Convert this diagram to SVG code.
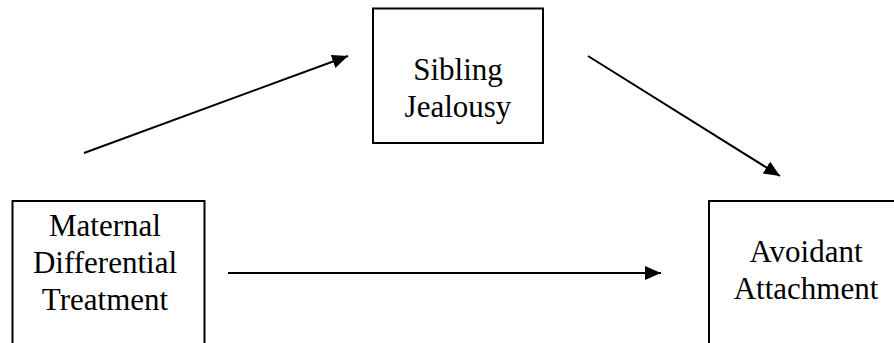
<svg xmlns="http://www.w3.org/2000/svg" width="894" height="343" viewBox="0 0 894 343">
  <style>
    .box { fill: #ffffff; stroke: #000000; stroke-width: 2; }
    .label { font-family: "Liberation Serif", "Times New Roman", serif; font-size: 31px; fill: #000000; text-anchor: middle; }
    .edge { stroke: #000000; stroke-width: 2; fill: none; marker-end: url(#head); }
  </style>
  <defs>
    <marker id="head" markerUnits="userSpaceOnUse" markerWidth="18" markerHeight="16" refX="16" refY="7" orient="auto">
      <path d="M0,0 L16,7 L0,14 Z" fill="#000000"/>
    </marker>
  </defs>
  <rect width="894" height="343" fill="#ffffff"/>

  <g id="node-sibling-jealousy">
    <rect class="box" x="373" y="8.5" width="170" height="134.5"/>
    <text class="label" x="458" y="80">Sibling</text>
    <text class="label" x="458" y="117">Jealousy</text>
  </g>

  <g id="node-maternal-differential-treatment">
    <rect class="box" x="12.5" y="201" width="192" height="160"/>
    <text class="label" x="105" y="236">Maternal</text>
    <text class="label" x="105" y="273">Differential</text>
    <text class="label" x="105" y="310">Treatment</text>
  </g>

  <g id="node-avoidant-attachment">
    <rect class="box" x="709" y="201" width="200" height="160"/>
    <text class="label" x="806" y="262">Avoidant</text>
    <text class="label" x="806" y="299">Attachment</text>
  </g>

  <g id="connectors">
    <line class="edge" x1="84" y1="153" x2="348" y2="56"/>
    <line class="edge" x1="588" y1="56" x2="780" y2="176"/>
    <line class="edge" x1="228" y1="273" x2="661" y2="273"/>
  </g>
</svg>
